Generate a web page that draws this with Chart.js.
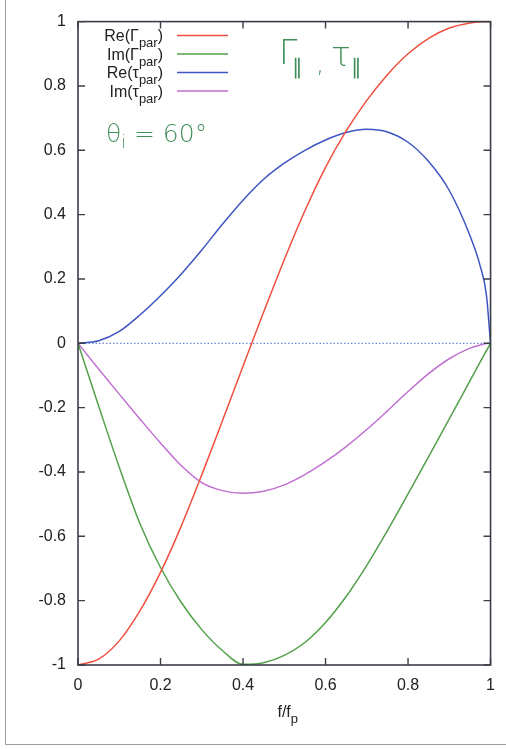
<!DOCTYPE html>
<html>
<head>
<meta charset="utf-8">
<title>Re/Im of Gamma_par and tau_par</title>
<script src="https://cdn.jsdelivr.net/npm/chart.js@4.4.0/dist/chart.umd.min.js"></script>
<style>
  html, body { margin: 0; padding: 0; background: #fff; }
  #wrap { position: relative; width: 506px; height: 749px; overflow: hidden; background: #fff; }
  #c { position: absolute; left: 0; top: 0; }
  .page { position: absolute; left: 5px; top: -4px; width: 540px; height: 749px;
          border-left: 1.5px solid #a0a0a0; border-bottom: 1.5px solid #a0a0a0; box-sizing: border-box; }
  .hand { position: absolute; color: #3f8f58; font-family: "DejaVu Sans", sans-serif; font-weight: 200; white-space: nowrap; line-height: 1; }
</style>
</head>
<body>
<div id="wrap">
  <div class="page"></div>
  <canvas id="c" width="506" height="749"></canvas>
  <div class="hand" style="left:279px; top:36px; font-size:33px;">Γ</div>
  <div class="hand" style="left:292px; top:57px; font-size:21px;">∥</div>
  <div class="hand" style="left:316px; top:50px; font-size:26px;">,</div>
  <div class="hand" style="left:331px; top:38px; font-size:33px;">τ</div>
  <div class="hand" style="left:351px; top:57px; font-size:21px;">∥</div>
  <div class="hand" style="left:106px; top:121px; font-size:25px;">θ<span style="font-size:17px; position:relative; top:6px;">i</span> = 60°</div>
</div>
<script>
// f / f_p
var fVals    = [0, 0.05, 0.1, 0.15, 0.2, 0.25, 0.3, 0.35, 0.4, 0.45, 0.5, 0.55, 0.6, 0.65, 0.7, 0.75, 0.8, 0.85, 0.9, 0.95, 0.975, 0.99, 1];
var reGamma  = [-1, -0.982, -0.925, -0.832, -0.712, -0.569, -0.409, -0.241, -0.071, 0.097, 0.26, 0.412, 0.547, 0.66, 0.755, 0.835, 0.9, 0.948, 0.98, 0.996, 0.999, 1, 1];
var imGamma  = [0, -0.195, -0.385, -0.56, -0.697, -0.805, -0.89, -0.955, -0.998, -0.993, -0.97, -0.93, -0.868, -0.787, -0.69, -0.582, -0.468, -0.352, -0.235, -0.117, -0.058, -0.023, 0];
var reTau    = [0, 0.008, 0.037, 0.088, 0.148, 0.215, 0.29, 0.37, 0.445, 0.51, 0.56, 0.6, 0.632, 0.655, 0.665, 0.657, 0.625, 0.565, 0.475, 0.335, 0.24, 0.15, 0];
var imTau    = [0, -0.08, -0.158, -0.235, -0.31, -0.38, -0.433, -0.458, -0.466, -0.46, -0.44, -0.408, -0.368, -0.321, -0.268, -0.21, -0.15, -0.094, -0.048, -0.015, -0.005, -0.001, 0];

var seriesLabels = ['Re(Γ_par)', 'Im(Γ_par)', 'Re(τ_par)', 'Im(τ_par)'];
var seriesColors = ['#f0503f', '#52a04a', '#3d55c2', '#c070d2'];

var xTicks = [0, 0.2, 0.4, 0.6, 0.8, 1];
var yTicks = [-1, -0.8, -0.6, -0.4, -0.2, 0, 0.2, 0.4, 0.6, 0.8, 1];

var FONT = '"Liberation Sans", Arial, sans-serif';

function pts(ys) {
    return fVals.map(function (f, i) { return { x: f, y: ys[i] }; });
}

// label with a subscript, right aligned at xr
function subText(ctx, label, xr, base, size) {
    var m = label.match(/^(.*)_([^)]*)(\)?)$/);
    var a = m ? m[1] : label, s = m ? m[2] : '', t = m ? m[3] : '';
    ctx.font = size + 'px ' + FONT;
    var w1 = ctx.measureText(a).width;
    var w3 = ctx.measureText(t).width;
    ctx.font = Math.round(size * 0.8) + 'px ' + FONT;
    var w2 = ctx.measureText(s).width;
    var x0 = xr - (w1 + w2 + w3);
    ctx.textBaseline = 'alphabetic';
    ctx.textAlign = 'left';
    ctx.font = size + 'px ' + FONT;
    ctx.fillText(a, x0, base);
    ctx.font = Math.round(size * 0.8) + 'px ' + FONT;
    ctx.fillText(s, x0 + w1, base + 6);
    ctx.font = size + 'px ' + FONT;
    ctx.fillText(t, x0 + w1 + w2, base);
}

var framePlugin = {
    id: 'frame',
    beforeDatasetsDraw: function (chart) {
        var ctx = chart.ctx, a = chart.chartArea;
        var y0 = chart.scales.y.getPixelForValue(0);
        ctx.save();
        ctx.strokeStyle = '#6f8ae0';
        ctx.lineWidth = 1.2;
        ctx.setLineDash([1.5, 2]);
        ctx.beginPath();
        ctx.moveTo(a.left, y0);
        ctx.lineTo(a.right, y0);
        ctx.stroke();
        ctx.restore();
    },
    afterDatasetsDraw: function (chart) {
        var ctx = chart.ctx, a = chart.chartArea;
        var sx = chart.scales.x, sy = chart.scales.y;
        ctx.save();
        ctx.strokeStyle = '#3a3e48';
        ctx.lineWidth = 1.6;
        ctx.strokeRect(a.left, a.top, a.right - a.left, a.bottom - a.top);

        // gnuplot style inward ticks, mirrored
        ctx.lineWidth = 1.4;
        ctx.beginPath();
        xTicks.forEach(function (v) {
            var px = sx.getPixelForValue(v);
            ctx.moveTo(px, a.bottom); ctx.lineTo(px, a.bottom - 7);
            ctx.moveTo(px, a.top); ctx.lineTo(px, a.top + 7);
        });
        yTicks.forEach(function (v) {
            var py = sy.getPixelForValue(v);
            ctx.moveTo(a.left, py); ctx.lineTo(a.left + 7, py);
            ctx.moveTo(a.right, py); ctx.lineTo(a.right - 7, py);
        });
        ctx.stroke();

        // key
        ctx.fillStyle = '#222';
        chart.data.datasets.forEach(function (ds, i) {
            var ly = 35.5 + i * 18.5;
            subText(ctx, ds.label, 163, ly + 5.5, 16);
            ctx.strokeStyle = ds.borderColor;
            ctx.lineWidth = 1.4;
            ctx.beginPath();
            ctx.moveTo(177, ly);
            ctx.lineTo(228, ly);
            ctx.stroke();
        });

        // x axis title f/f_p
        ctx.fillStyle = '#222';
        subText(ctx, 'f/f_p', 298, 717, 16);
        ctx.restore();
    }
};

var config = {
    type: 'line',
    data: {
        datasets: seriesLabels.map(function (lab, i) {
            return {
                label: lab,
                data: pts([reGamma, imGamma, reTau, imTau][i]),
                borderColor: seriesColors[i],
                borderWidth: 1.5,
                pointRadius: 0,
                fill: false,
                cubicInterpolationMode: 'monotone'
            };
        })
    },
    options: {
        responsive: false,
        animation: false,
        layout: { padding: { top: 19, right: 14, left: 0, bottom: 0 } },
        plugins: { legend: { display: false }, tooltip: { enabled: false } },
        scales: {
            x: {
                type: 'linear', min: 0, max: 1,
                grid: { display: false, drawTicks: false },
                border: { display: false },
                afterBuildTicks: function (s) { s.ticks = xTicks.map(function (v) { return { value: v }; }); },
                afterFit: function (s) { s.height = 84; },
                ticks: {
                    padding: 11, color: '#222', font: { family: FONT, size: 16 },
                    callback: function (v) { return String(+v.toFixed(1)); }
                }
            },
            y: {
                type: 'linear', min: -1, max: 1,
                grid: { display: false, drawTicks: false },
                border: { display: false },
                afterBuildTicks: function (s) { s.ticks = yTicks.map(function (v) { return { value: v }; }); },
                afterFit: function (s) { s.width = 78; },
                ticks: {
                    padding: 12, color: '#222', font: { family: FONT, size: 16 },
                    callback: function (v) { return String(+v.toFixed(1)); }
                }
            }
        }
    },
    plugins: [framePlugin]
};

var chart = new Chart(document.getElementById('c'), config);
</script>
</body>
</html>
